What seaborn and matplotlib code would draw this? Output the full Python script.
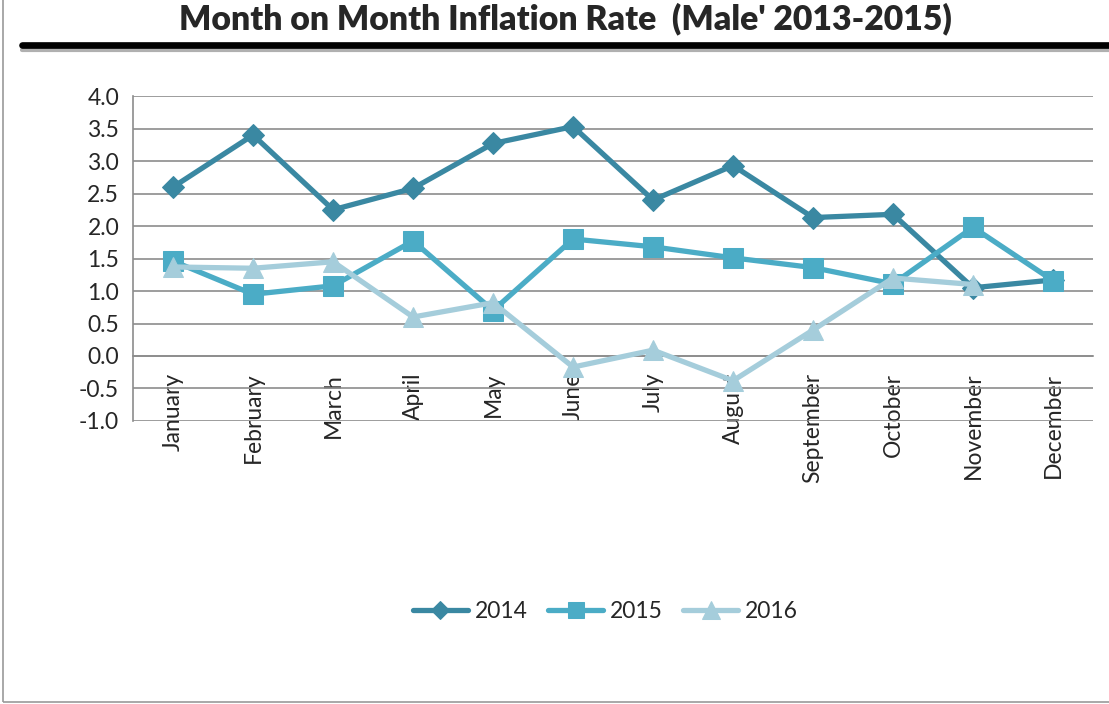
import numpy as np
import pandas as pd
import matplotlib
matplotlib.use("Agg")
import matplotlib.pyplot as plt
from matplotlib.lines import Line2D
from matplotlib.patches import Rectangle
import seaborn as sns

months = ["January", "February", "March", "April", "May", "June", "July",
          "August", "September", "October", "November", "December"]
years = ["2014", "2015", "2016"]
rate_2014 = [2.60, 3.40, 2.25, 2.58, 3.27, 3.53, 2.40, 2.93, 2.13, 2.18, 1.05, 1.17]
rate_2015 = [1.46, 0.95, 1.08, 1.77, 0.70, 1.80, 1.68, 1.51, 1.36, 1.11, 1.98, 1.16]
rate_2016 = [1.37, 1.35, 1.45, 0.60, 0.82, -0.17, 0.09, -0.38, 0.40, 1.20, 1.10, np.nan]
y_ticks = [-1.0, -0.5, 0.0, 0.5, 1.0, 1.5, 2.0, 2.5, 3.0, 3.5, 4.0]

colors = {"2014": "#3A88A2", "2015": "#4BACC6", "2016": "#A5CDDB"}
markers = {"2014": "D", "2015": "s", "2016": "^"}
msizes = {"2014": 11, "2015": 14, "2016": 15}

df = pd.DataFrame({"month": list(range(len(months))) * 3,
                   "year": np.repeat(years, len(months)),
                   "rate": rate_2014 + rate_2015 + rate_2016})

sns.set_style("white")
plt.rcParams["font.family"] = ["Lato", "DejaVu Sans"]

fig = plt.figure(figsize=(11.09, 7.04), dpi=100)
ax = fig.add_axes([0.12, 0.402, 0.8656, 0.4616])

for yr in years:
    sub = df[df["year"] == yr].dropna()
    sns.lineplot(data=sub, x="month", y="rate", ax=ax, color=colors[yr],
                 linewidth=3.8, marker=markers[yr], markersize=msizes[yr],
                 markeredgecolor=colors[yr], label=yr, zorder=3)

grid_c = "#8C8C8C"
ax.set_xlim(-0.5, len(months) - 0.5)
ax.set_ylim(-1.0, 4.0)
ax.set_yticks(y_ticks)
ax.set_yticklabels([f"{v:.1f}" for v in y_ticks])
ax.yaxis.grid(True, color=grid_c, linewidth=1.2)
ax.xaxis.grid(False)
ax.set_axisbelow(True)

ax.set_xticks(range(len(months)))
ax.set_xticklabels(months)
ax.set_xticks(np.arange(-0.5, len(months), 1.0), minor=True)
ax.tick_params(axis="x", which="major", length=0, pad=12,
               labelrotation=90, labelsize=16.5)
ax.tick_params(axis="x", which="minor", length=7, width=1.2, color=grid_c, direction="out")
ax.tick_params(axis="y", length=6, width=1.2, color=grid_c, direction="out", pad=4,
               labelsize=16.5)
ax.set_xlabel("")
ax.set_ylabel("")

for s in ["top", "right"]:
    ax.spines[s].set_visible(False)
ax.spines["bottom"].set_position(("data", 0))
ax.spines["bottom"].set_color(grid_c)
ax.spines["bottom"].set_linewidth(1.2)
ax.spines["left"].set_color(grid_c)
ax.spines["left"].set_linewidth(1.2)

ax.get_legend().remove()
handles, labels = ax.get_legend_handles_labels()
fig.legend(handles, labels, loc="center", bbox_to_anchor=(0.546, 0.132), ncol=3,
           frameon=False, fontsize=16.5, handlelength=2.4, handletextpad=0.3,
           columnspacing=0.9, markerscale=0.85)

fig.text(0.51, 0.996, "Month on Month Inflation Rate  (Male' 2013-2015)",
         ha="center", va="top", fontsize=24.3, fontweight="heavy")

# heavy rule under the title, with a soft shadow
fig.add_artist(Line2D([22 / 1109, 1.0], [1 - 50 / 704, 1 - 50 / 704],
                      color="#B0B0B0", linewidth=3, transform=fig.transFigure))
fig.add_artist(Line2D([22 / 1109, 1.0], [1 - 45 / 704, 1 - 45 / 704],
                      color="black", linewidth=4.8, transform=fig.transFigure))
fig.add_artist(Rectangle((3 / 1109, 2 / 704), 1.2, 1.2, fill=False,
                         edgecolor="#9A9A9A", linewidth=1.2, transform=fig.transFigure))

fig.savefig("out.png", dpi=100)
